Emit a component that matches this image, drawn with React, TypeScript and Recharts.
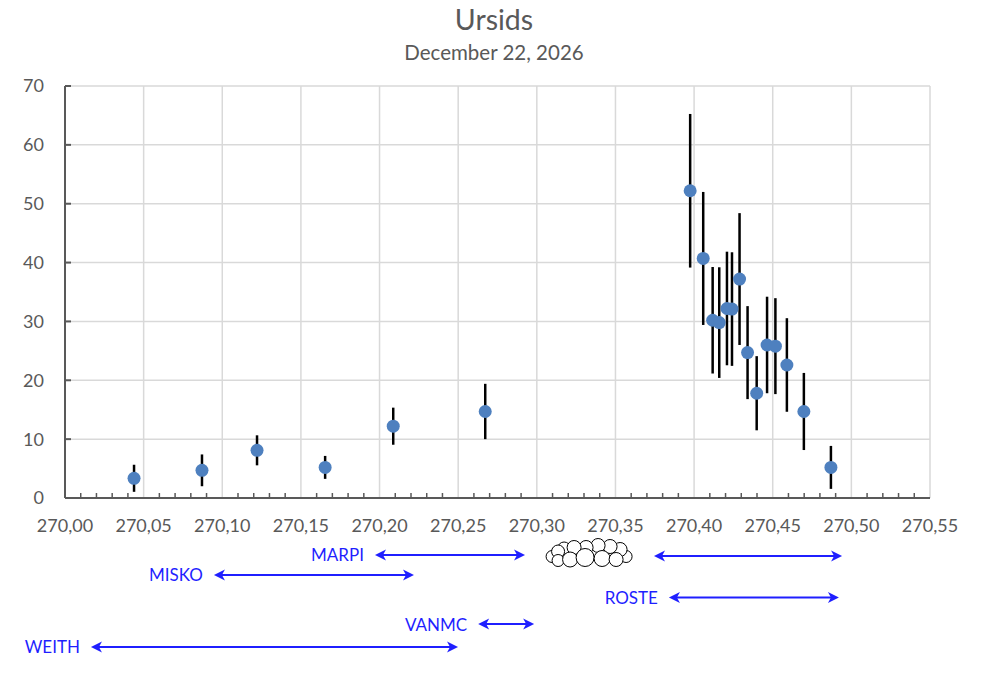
import React from 'react';
import {
  ScatterChart,
  Scatter,
  XAxis,
  YAxis,
  CartesianGrid,
  ErrorBar,
  ReferenceLine,
  ReferenceDot,
} from 'recharts';

// ---- data ----
const solarLongitude = [
  270.0439, 270.0871, 270.1221, 270.1654, 270.2087, 270.2672, 270.3975, 270.4058,
  270.4118, 270.4160, 270.4209, 270.4241, 270.4289, 270.4340, 270.4398, 270.4464,
  270.4517, 270.4590, 270.4698, 270.4870,
];
const zhr = [
  3.35, 4.7, 8.1, 5.2, 12.2, 14.7, 52.2, 40.7, 30.2, 29.8, 32.2, 32.1, 37.2, 24.7,
  17.8, 26.0, 25.8, 22.6, 14.7, 5.2,
];
const zhrError = [
  2.3, 2.7, 2.55, 1.95, 3.15, 4.7, 13.05, 11.3, 9.05, 9.4, 9.65, 9.65, 11.2, 7.9,
  6.3, 8.2, 8.15, 7.95, 6.55, 3.65,
];

const xTicks = [
  270.0, 270.05, 270.1, 270.15, 270.2, 270.25, 270.3, 270.35, 270.4, 270.45, 270.5, 270.55,
];
const yTicks = [0, 10, 20, 30, 40, 50, 60, 70];

// observer coverage intervals (solar longitude) and their row level below the axis
const observerNames = ['MARPI', '', 'MISKO', 'ROSTE', 'VANMC', 'WEITH'];
const observerStart = [270.1971, 270.3745, 270.0947, 270.384, 270.2627, 270.0165];
const observerEnd = [270.2925, 270.4941, 270.2219, 270.4921, 270.2983, 270.2499];
const observerRow = [-9.68, -9.85, -13.08, -16.9, -21.41, -25.31];

const cloudLongitude = 270.3326;
const cloudRow = -9.43;

const chartData = solarLongitude.map((x, i) => ({ x, y: zhr[i], err: zhrError[i] }));

const minorTicks: number[] = [];
for (let i = 1; i < 55; i++) {
  if (i % 5 !== 0) minorTicks.push(270 + i * 0.01);
}

const FONT = 'Lato, "Open Sans", sans-serif';
const AXIS = '#595959';
const BLUE = '#1f1fff';

const fmtX = (v: number) => v.toFixed(2).replace('.', ',');

const ArrowShape = (label: string) => (props: any) => {
  const { x1, y1, x2, y2 } = props;
  const y = (y1 + y2) / 2;
  const a = Math.min(x1, x2);
  const b = Math.max(x1, x2);
  const hl = 11;
  const hw = 5.5;
  return (
    <g>
      <line x1={a + 4} y1={y} x2={b - 4} y2={y} stroke={BLUE} strokeWidth={2} />
      <polygon points={`${a},${y} ${a + hl},${y - hw} ${a + hl - 3},${y} ${a + hl},${y + hw}`} fill={BLUE} />
      <polygon points={`${b},${y} ${b - hl},${y - hw} ${b - hl + 3},${y} ${b - hl},${y + hw}`} fill={BLUE} />
      {label ? (
        <text
          x={a - 11}
          y={y}
          textAnchor="end"
          dominantBaseline="central"
          fill={BLUE}
          fontFamily={FONT}
          fontSize={17}
        >
          {label}
        </text>
      ) : null}
    </g>
  );
};

const MinorTickShape = (props: any) => {
  const { x1, y1 } = props;
  return <line x1={x1} y1={y1} x2={x1} y2={y1 - 5} stroke={AXIS} strokeWidth={1.5} />;
};

const YTickShape = (props: any) => {
  const { x1, y1 } = props;
  return <line x1={x1} y1={y1} x2={x1 + 6} y2={y1} stroke={AXIS} strokeWidth={2} />;
};

const CloudShape = (props: any) => {
  const { cx, cy } = props;
  const circles: [number, number, number][] = [
    [38, 3, 6],
    [32, -4, 7],
    [22, -7, 7],
    [10, -8, 7],
    [-2, -6, 7],
    [-24, -5, 6.5],
    [-14, -6, 7],
    [-36, 3, 6],
    [-30, -2, 6.5],
    [-30, 7, 6],
    [-18, 6, 7.5],
    [-3, 4, 9],
    [14, 5, 8],
    [28, 6, 7],
  ];
  return (
    <g>
      {circles.map(([dx, dy, r], i) => (
        <circle key={i} cx={cx + dx} cy={cy + dy} r={r} fill="#fff" stroke="#000" strokeWidth={1} />
      ))}
    </g>
  );
};

const Dot = (props: any) => (
  <circle cx={props.cx} cy={props.cy} r={6.5} fill="#4e80bf" />
);

export default function App() {
  return (
    <div style={{ position: 'relative', width: 988, height: 679, background: '#fff' }}>
      <style>{`body{margin:0;}`}</style>
      <div
        style={{
          position: 'absolute',
          left: 0,
          width: 988,
          top: 3,
          textAlign: 'center',
          fontFamily: FONT,
          fontSize: 28.5,
          color: AXIS,
          lineHeight: '32px',
        }}
      >
        Ursids
      </div>
      <div
        style={{
          position: 'absolute',
          left: 0,
          width: 988,
          top: 40,
          textAlign: 'center',
          fontFamily: FONT,
          fontSize: 20.5,
          color: AXIS,
          lineHeight: '24px',
        }}
      >
        December 22, 2026
      </div>
      <div style={{ position: 'absolute', left: 0, top: 0 }}>
        <ScatterChart
          width={988}
          height={679}
          margin={{ top: 86, right: 58, bottom: 141, left: 0 }}
        >
          <CartesianGrid stroke="#d9d9d9" strokeWidth={1.5} />
          <XAxis
            type="number"
            dataKey="x"
            domain={[270, 270.55]}
            ticks={xTicks}
            tickFormatter={fmtX}
            allowDataOverflow
            height={40}
            stroke={AXIS}
            strokeWidth={2}
            tickLine={false}
            tickSize={0}
            tickMargin={21}
            tick={{ fill: AXIS, fontSize: 18, fontFamily: FONT }}
            interval={0}
          />
          <YAxis
            type="number"
            dataKey="y"
            domain={[0, 70]}
            ticks={yTicks}
            allowDataOverflow
            width={65}
            stroke={AXIS}
            strokeWidth={2}
            tickLine={false}
            tickSize={0}
            tickMargin={21}
            tick={{ fill: AXIS, fontSize: 18, fontFamily: FONT }}
            interval={0}
          />
          {minorTicks.map((t, i) => (
            <ReferenceLine
              key={'m' + i}
              ifOverflow="visible"
              segment={[
                { x: t, y: 0 },
                { x: t, y: 1 },
              ]}
              shape={MinorTickShape}
            />
          ))}
          {yTicks.map((t, i) => (
            <ReferenceLine
              key={'y' + i}
              ifOverflow="visible"
              segment={[
                { x: 270, y: t },
                { x: 270.01, y: t },
              ]}
              shape={YTickShape}
            />
          ))}
          <Scatter data={chartData} shape={Dot} isAnimationActive={false}>
            <ErrorBar
              dataKey="err"
              direction="y"
              width={0}
              stroke="#000"
              strokeWidth={2.5}
              isAnimationActive={false}
            />
          </Scatter>
          {observerNames.map((name, i) => (
            <ReferenceLine
              key={i}
              ifOverflow="visible"
              segment={[
                { x: observerStart[i], y: observerRow[i] },
                { x: observerEnd[i], y: observerRow[i] },
              ]}
              shape={ArrowShape(name)}
            />
          ))}
          <ReferenceDot
            x={cloudLongitude}
            y={cloudRow}
            ifOverflow="visible"
            shape={CloudShape}
          />
        </ScatterChart>
      </div>
    </div>
  );
}
